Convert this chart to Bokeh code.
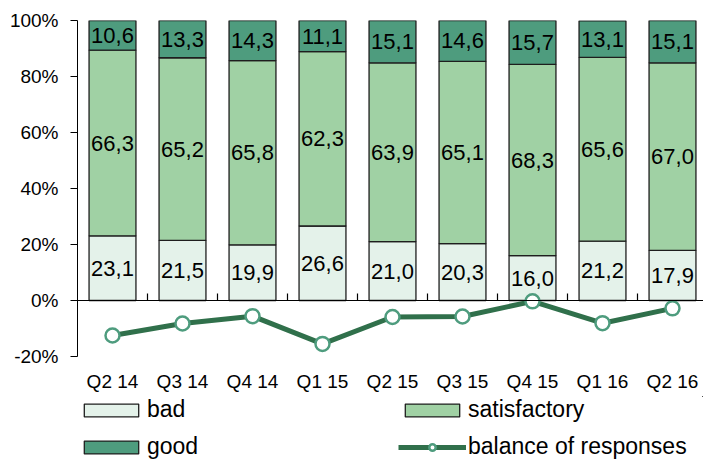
import numpy as np
from bokeh.plotting import figure
from bokeh.layouts import column
from bokeh.models import (ColumnDataSource, FixedTicker, Span, Legend, LegendItem, Range1d)
from bokeh.core.properties import value
from bokeh.embed import file_html
from bokeh.resources import INLINE

categories = ["Q2 14", "Q3 14", "Q4 14", "Q1 15", "Q2 15", "Q3 15", "Q4 15", "Q1 16", "Q2 16"]
bad = [23.1, 21.5, 19.9, 26.6, 21.0, 20.3, 16.0, 21.2, 17.9]
satisfactory = [66.3, 65.2, 65.8, 62.3, 63.9, 65.1, 68.3, 65.6, 67.0]
good = [10.6, 13.3, 14.3, 11.1, 15.1, 14.6, 15.7, 13.1, 15.1]
balance = [-12.5, -8.2, -5.6, -15.5, -5.9, -5.7, -0.3, -8.1, -2.8]
y_ticks = [-20, 0, 20, 40, 60, 80, 100]
series_names = ["bad", "satisfactory", "good", "balance of responses"]

FONT = "Liberation Sans"
C_BAD = "#e4f2ea"
C_SAT = "#a0d1a4"
C_GOOD = "#4e9c7e"
C_LINE = "#30704b"
C_EDGE = "#1e1e1e"

x = np.arange(len(categories), dtype=float)
b = np.array(bad)
s = np.array(satisfactory)
g = np.array(good)

def fmt(v):
    return f"{v:.1f}".replace(".", ",")

src = ColumnDataSource(dict(
    x=x,
    b0=np.zeros_like(b), b1=b,
    s0=b, s1=b + s,
    g0=b + s, g1=b + s + g,
    bm=b / 2, sm=b + s / 2, gm=b + s + g / 2,
    bl=[fmt(v) for v in bad], sl=[fmt(v) for v in satisfactory], gl=[fmt(v) for v in good],
    bal=balance,
))

W = 0.67
bar_style = dict(width=W, source=src, line_color=C_EDGE, line_width=1.3)
line_style = dict(line_color=C_LINE, line_width=5)
mark_style = dict(size=14, fill_color="white", line_color=C_GOOD, line_width=2.5)


def draw_series(fig):
    rb = fig.vbar(x="x", bottom="b0", top="b1", fill_color=C_BAD, **bar_style)
    rs = fig.vbar(x="x", bottom="s0", top="s1", fill_color=C_SAT, **bar_style)
    rg = fig.vbar(x="x", bottom="g0", top="g1", fill_color=C_GOOD, **bar_style)
    return rb, rs, rg


p = figure(frame_width=626, frame_height=336, output_backend="svg", toolbar_location=None,
           x_range=Range1d(-0.5, -0.5 + 626 / 70), y_range=Range1d(-20, 100),
           min_border_left=77, min_border_top=20, min_border_right=0, min_border_bottom=40)
p.outline_line_color = None
p.grid.visible = False
p.background_fill_color = "white"

draw_series(p)

for col, ycol in (("bl", "bm"), ("sl", "sm"), ("gl", "gm")):
    p.text(x="x", y=ycol, text=col, source=src, text_align="center", text_baseline="middle",
           text_font=value(FONT), text_font_size="22px", text_color="black")

p.add_layout(Span(location=0, dimension="width", line_color="black", line_width=1.2))
bounds = x[:-1] + 0.5
p.segment(x0=bounds, y0=np.zeros_like(bounds), x1=bounds, y1=np.full_like(bounds, 2.5),
          line_color="black", line_width=1.2)

p.line(x="x", y="bal", source=src, **line_style)
p.scatter(x="x", y="bal", source=src, **mark_style)

yax = p.yaxis[0]
yax.ticker = FixedTicker(ticks=y_ticks)
yax.major_label_overrides = {t: f"{t}%" for t in y_ticks}
yax.minor_tick_line_color = None
yax.major_tick_in = 0
yax.major_tick_out = 7
yax.axis_line_color = "black"
yax.major_tick_line_color = "black"
yax.major_label_text_font = FONT
yax.major_label_text_font_size = "19px"
yax.major_label_text_color = "black"
yax.major_label_standoff = 12

xax = p.xaxis[0]
xax.ticker = FixedTicker(ticks=list(x))
xax.major_label_overrides = {int(i): c for i, c in enumerate(categories)}
xax.axis_line_color = None
xax.major_tick_line_color = None
xax.minor_tick_line_color = None
xax.major_label_text_font = FONT
xax.major_label_text_font_size = "19px"
xax.major_label_text_color = "black"
xax.major_label_standoff = 8

# legend strip below the chart: same series drawn, with the view range set away from the data
lf = figure(width=703, height=63, output_backend="svg", toolbar_location=None,
            x_range=Range1d(-20, -19), y_range=Range1d(-1000, -999),
            x_axis_type=None, y_axis_type=None,
            min_border_left=73, min_border_top=0, min_border_right=0, min_border_bottom=0)
lf.outline_line_color = None
lf.grid.visible = False
lb, ls, lg_ = draw_series(lf)
ll = lf.line(x="x", y="bal", source=src, **line_style)
lm = lf.scatter(x="x", y="bal", source=src, **mark_style)

legend = Legend(items=[
    LegendItem(label=series_names[0], renderers=[lb]),
    LegendItem(label=series_names[1], renderers=[ls]),
    LegendItem(label=series_names[2], renderers=[lg_]),
    LegendItem(label=series_names[3], renderers=[ll, lm]),
], orientation="horizontal", ncols=2, location="top_left")
legend.glyph_width = 68
legend.glyph_height = 16
legend.label_standoff = 2
legend.label_width = 241
legend.label_height = 22
legend.spacing = 10
legend.margin = 0
legend.padding = 3
legend.border_line_color = None
legend.background_fill_alpha = 0
legend.label_text_font = FONT
legend.label_text_font_size = "23px"
legend.label_text_color = "black"
lf.add_layout(legend, "center")

layout = column(p, lf, spacing=0)
open("out.html", "w").write(file_html(layout, INLINE))
